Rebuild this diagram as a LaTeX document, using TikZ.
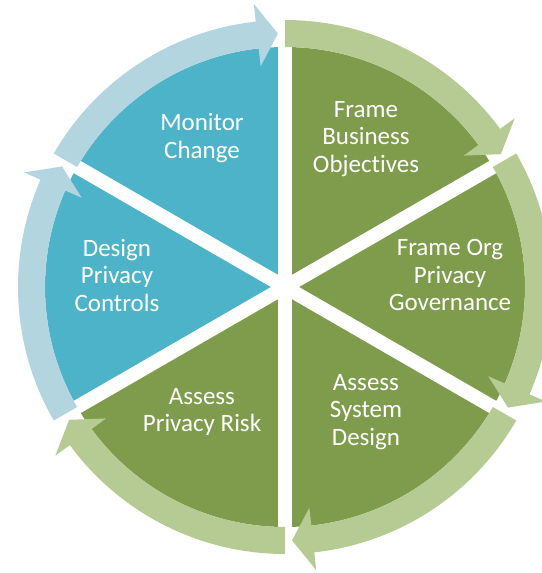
\documentclass[tikz,border=0pt]{standalone}
\usepackage{fontspec}
\setmainfont{Carlito}[Ligatures=NoCommon]
\definecolor{blueseg}{HTML}{4DB3C8}
\definecolor{bluering}{HTML}{B2D5E0}
\definecolor{greenseg}{HTML}{7F9C4C}
\definecolor{greenring}{HTML}{B5CB93}
\begin{document}
\begin{tikzpicture}[x=1pt,y=1pt,
    phase/.style={text=white,align=center,font=\fontsize{25}{27.5}\selectfont}]
      \useasboundingbox (0,0) rectangle (541,-573);
      \begin{scope}[shift={(285,-287)}]
        \foreach \a/\col in {90/blueseg,150/blueseg,30/greenseg,-30/greenseg,-90/greenseg,-150/greenseg} {
          \fill[\col] (0,0) -- (\a:240) arc[start angle=\a, end angle=\a+60, radius=240] -- cycle;
        }
        \foreach \a in {30,90,...,330} {
          \draw[white,line width=14] (0,0) -- (\a:300);
        }
        \foreach \t/\col in {150/bluering,90/greenring,30/greenring,-30/greenring,-90/greenring,210/bluering} {
          \fill[\col] (\t:240) arc[start angle=\t, end angle=\t-53.7, radius=240] -- (\t-53.7:222) -- (\t-58.4:253.5)
            -- (\t-53.7:285) -- (\t-53.7:267) arc[start angle=\t-53.7, end angle=\t, radius=267] -- cycle;
        }
      \end{scope}
      \node[phase] (monitor) at (202,-138) {Monitor\\Change};
      \node[phase] (business) at (366,-139) {Frame\\Business\\Objectives};
      \node[phase] (governance) at (450,-275) {Frame Org\\Privacy\\Governance};
      \node[phase] (system) at (366,-412) {Assess\\System\\Design};
      \node[phase] (risk) at (202,-412) {Assess\\Privacy Risk};
      \node[phase] (controls) at (117,-275) {Design\\Privacy\\Controls};
\end{tikzpicture}
\end{document}
